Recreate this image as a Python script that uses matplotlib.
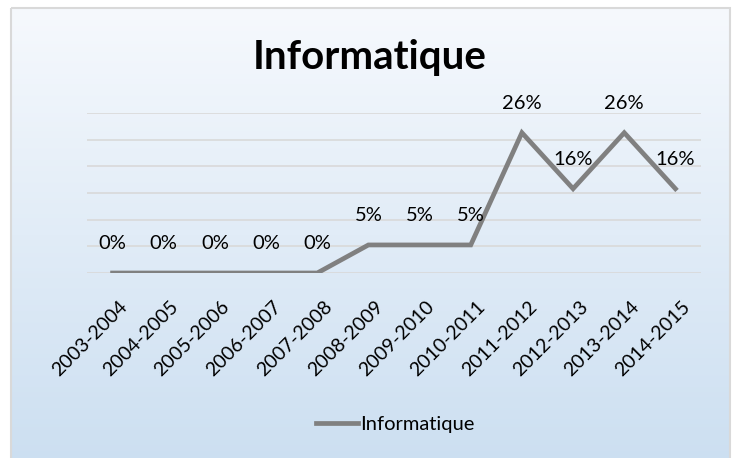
import numpy as np
import matplotlib

matplotlib.use("Agg")
import matplotlib.pyplot as plt
import matplotlib.transforms as mtransforms
from matplotlib.patches import Rectangle

plt.rcParams["font.family"] = ["Lato", "DejaVu Sans"]

# data
years = [
    "2003-2004", "2004-2005", "2005-2006", "2006-2007", "2007-2008", "2008-2009",
    "2009-2010", "2010-2011", "2011-2012", "2012-2013", "2013-2014", "2014-2015",
]
share = [0.0, 0.0, 0.0, 0.0, 0.0, 0.0526, 0.0526, 0.0526, 0.263, 0.158, 0.263, 0.158]
series_name = "Informatique"

W, H = 736, 458
fig = plt.figure(figsize=(W / 100, H / 100), dpi=100)
fig.patch.set_facecolor("white")

# chart area: light blue vertical gradient inside a grey frame
bg = fig.add_axes([0, 0, 1, 1], zorder=-10)
bg.set_xlim(0, W)
bg.set_ylim(H, 0)
bg.axis("off")
grad = np.linspace(0, 1, 256).reshape(-1, 1)
top_c = np.array([0xF6, 0xF9, 0xFD]) / 255
bot_c = np.array([0xCC, 0xDF, 0xF1]) / 255
img = top_c + grad[..., None] * (bot_c - top_c)
bg.imshow(img, extent=[11, 730, H + 5, 8], aspect="auto", zorder=0)
bg.add_patch(Rectangle((11, 8), 719, H, fill=False, edgecolor="#D9D9D9", lw=1.5, zorder=1))

ax = fig.add_axes([87 / W, (H - 273) / H, (701 - 87) / W, (273 - 113) / H])
ax.set_facecolor("none")
x = np.arange(len(years))
ax.plot(x, share, color="#808080", lw=3.4, solid_joinstyle="miter", label=series_name, zorder=3)
for xi, v in zip(x, share):
    ax.annotate(f"{v:.0%}", (xi, v), xytext=(0, 21), textcoords="offset points",
                ha="center", va="center", fontsize=14.5, color="black")

ax.set_xlim(-0.5, len(years) - 0.5)
ax.set_ylim(0, 0.30)
ax.set_yticks(np.arange(0, 0.31, 0.05))
ax.yaxis.grid(True, color="#D9D9D9", lw=1.2)
ax.tick_params(axis="y", length=0, labelleft=False)
ax.set_xticks(x)
ax.set_xticklabels(years, rotation=45, ha="right", rotation_mode="anchor", fontsize=14)
ax.tick_params(axis="x", length=0, pad=18)
shift = mtransforms.ScaledTranslation(6 / 100, 0, fig.dpi_scale_trans)
for lbl in ax.get_xticklabels():
    lbl.set_transform(lbl.get_transform() + shift)
for s in ax.spines.values():
    s.set_visible(False)

fig.text(370 / W, 1 - 57 / H, "Informatique", ha="center", va="center",
         fontsize=29, fontweight="bold")

fig.legend(loc="center", bbox_to_anchor=(395 / W, 1 - 424 / H), frameon=False,
           fontsize=14.5, handlelength=2.1, handletextpad=0.1)

fig.savefig("out.png", dpi=100)
